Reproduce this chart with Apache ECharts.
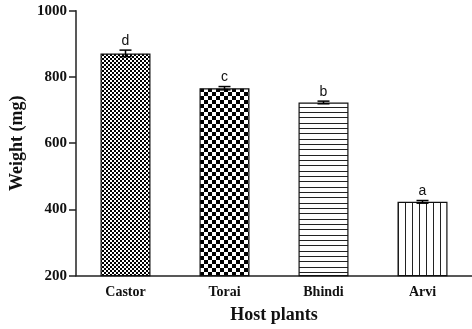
<!DOCTYPE html>
<html><head><meta charset="utf-8">
<script src="https://cdn.jsdelivr.net/npm/echarts@6/dist/echarts.min.js"></script>
<style>html,body{margin:0;padding:0;background:#fff}#c{width:472px;height:329px}</style>
</head><body><div id="c"></div>
<script>
var categories = ['Castor', 'Torai', 'Bhindi', 'Arvi'];
var weights = [871, 766, 723, 423];
var errors = [10, 5, 4, 4];
var letters = ['d', 'c', 'b', 'a'];
var yTicks = [200, 400, 600, 800, 1000];

function mk(w, h, draw) {
  var c = document.createElement('canvas'); c.width = w; c.height = h;
  var g = c.getContext('2d'); g.fillStyle = '#fff'; g.fillRect(0, 0, w, h);
  g.fillStyle = '#000'; draw(g); return {image: c, repeat: 'repeat'};
}
var patterns = [
  mk(4, 4, function (g) { g.fillRect(0, 0, 2, 2); g.fillRect(2, 2, 2, 2); }),
  mk(8, 8, function (g) { g.fillRect(0, 0, 4, 4); g.fillRect(4, 4, 4, 4); }),
  mk(4, 16, function (g) { g.fillStyle = '#222'; g.fillRect(0, 0, 4, 1); g.fillRect(0, 5, 4, 1); g.fillRect(0, 11, 4, 1); }),
  mk(7, 4, function (g) { g.fillStyle = '#222'; g.fillRect(6, 0, 1, 4); })
];

var chart = echarts.init(document.getElementById('c'), null, {renderer: 'canvas'});
var serif = '"Liberation Serif","Times New Roman",serif';
chart.setOption({
  animation: false,
  grid: {left: 76, right: 0, top: 10.7, bottom: 53.3, containLabel: false, outerBoundsMode: 'none'},
  xAxis: {
    type: 'category', data: categories,
    name: 'Host plants', nameLocation: 'middle', nameGap: 31,
    nameTextStyle: {fontFamily: serif, fontWeight: 'bold', fontSize: 18, color: '#111'},
    axisLine: {lineStyle: {color: '#222', width: 1.5}},
    axisTick: {alignWithLabel: true, length: 6, lineStyle: {color: '#222', width: 1.5}},
    axisLabel: {fontFamily: serif, fontWeight: 'bold', fontSize: 14, color: '#111', margin: 10}
  },
  yAxis: {
    type: 'value', min: 200, max: 1000, interval: 200,
    name: 'Weight (mg)', nameLocation: 'middle', nameGap: 47,
    nameTextStyle: {fontFamily: serif, fontWeight: 'bold', fontSize: 18, color: '#111'},
    axisLine: {show: true, lineStyle: {color: '#222', width: 1.5}},
    axisTick: {show: true, length: 7, lineStyle: {color: '#222', width: 1.5}},
    splitLine: {show: false},
    axisLabel: {fontFamily: serif, fontWeight: 'bold', fontSize: 15, color: '#111', margin: 9,
      formatter: function (v) { return String(v); }}
  },
  series: [{
    type: 'bar', barWidth: 50,
    data: weights.map(function (v, i) {
      return {value: v, itemStyle: {color: patterns[i], borderColor: '#111', borderWidth: 1.2}};
    })
  }, {
    type: 'custom',
    data: weights.map(function (v, i) { return [i, v, errors[i]]; }),
    z: 5,
    renderItem: function (params, api) {
      var x = api.value(0), m = api.value(1), e = api.value(2);
      var top = api.coord([x, m + e]), bot = api.coord([x, m - e]);
      var hw = 6;
      var st = {stroke: '#000', lineWidth: 1.5};
      return {type: 'group', children: [
        {type: 'line', shape: {x1: top[0], y1: top[1], x2: bot[0], y2: bot[1]}, style: st},
        {type: 'line', shape: {x1: top[0] - hw, y1: top[1], x2: top[0] + hw, y2: top[1]}, style: st},
        {type: 'line', shape: {x1: bot[0] - hw, y1: bot[1], x2: bot[0] + hw, y2: bot[1]}, style: st},
        {type: 'text', x: top[0], y: top[1] - 2, style: {text: letters[params.dataIndex],
          fontFamily: '"Liberation Sans",Arial,sans-serif', fontSize: 14, fill: '#111',
          align: 'center', verticalAlign: 'bottom'}}
      ]};
    }
  }]
});
</script></body></html>
